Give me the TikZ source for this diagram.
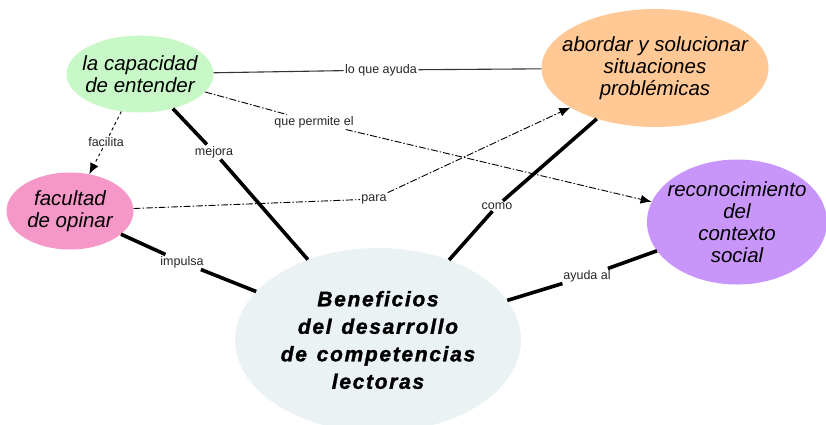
\documentclass[tikz,border=0pt]{standalone}
\usepackage{fontspec}
\usepackage{xcolor}
\usepackage{tikz}
\usetikzlibrary{shapes.geometric,arrows.meta}
\setmainfont{Liberation Sans}
\newfontfamily\cenfont[LetterSpace=8,WordSpace=1.3,FakeBold=1.5]{Liberation Sans}

\definecolor{verde}{RGB}{200,248,200}
\definecolor{rosa}{RGB}{245,152,200}
\definecolor{naranja}{RGB}{255,200,148}
\definecolor{lila}{RGB}{200,150,250}
\definecolor{gris}{RGB}{234,242,244}

\tikzset{
	idea/.style={ellipse,inner sep=0pt},
	texto/.style={inner sep=0pt,align=center,font=\fontsize{20.5}{22}\selectfont\itshape},
	central/.style={inner sep=0pt,align=center,font=\cenfont\fontsize{21}{27.5}\selectfont\bfseries\itshape},
	lbl/.style={fill=white,inner sep=1.5pt,text=black!85,font=\fontsize{12.5}{14}\selectfont},
	fuerte/.style={line width=3.6pt},
	punteo/.style={line width=0.9pt,dash pattern=on 7pt off 2pt on 1.5pt off 2pt},
	flecha/.style={-{Latex[length=11pt,width=9pt]}}
}

\begin{document}
\begin{tikzpicture}[x=1pt,y=-1pt]
	\useasboundingbox (0,0) rectangle (826,424);

	\node[idea,fill=verde,minimum width=147pt,minimum height=77pt,
		label={[texto]center:la capacidad\\de entender}] (cap) at (140,74) {};
	\node[idea,fill=rosa,minimum width=127pt,minimum height=77pt,
		label={[texto]center:facultad\\de opinar}] (fac) at (70,211) {};
	\node[idea,fill=naranja,minimum width=227pt,minimum height=118pt,
		label={[texto]center:abordar y solucionar\\situaciones\\problémicas}] (abo) at (655,68) {};
	\node[idea,fill=lila,minimum width=180pt,minimum height=125pt,
		label={[texto]center:reconocimiento\\del\\contexto\\social}] (rec) at (737,222) {};
	\node[idea,fill=gris,minimum width=286pt,minimum height=184pt,
		label={[central]center:Beneficios\\del desarrollo\\de competencias\\lectoras}] (cen) at (378,340) {};

	% etiquetas
	\node[lbl] (layuda) at (381,70) {lo que ayuda};
	\node[lbl] (lpermite) at (314,122) {que permite el};
	\node[lbl] (lfacilita) at (106,142) {facilita};
	\node[lbl] (lmejora) at (214,152) {mejora};
	\node[lbl] (lpara) at (374,199) {para};
	\node[lbl] (limpulsa) at (182,262) {impulsa};
	\node[lbl] (lcomo) at (497,206) {como};
	\node[lbl] (layudaal) at (587,276) {ayuda al};

	\draw[line width=1.1pt,black!80] (cap) -- (layuda) -- (abo);
	\draw[punteo,flecha] (cap) -- (lpermite) -- (rec);
	\draw[line width=0.9pt,dashed,flecha] (cap) -- (lfacilita) -- (fac);
	\draw[punteo,flecha] (fac) -- (lpara) -- (abo);

	\draw[fuerte] (cap) -- (lmejora) -- (cen);
	\draw[fuerte] (fac) -- (limpulsa) -- (cen);
	\draw[fuerte] (cen) -- (lcomo) -- (abo);
	\draw[fuerte] (cen) -- (layudaal) -- (rec);
\end{tikzpicture}
\end{document}
